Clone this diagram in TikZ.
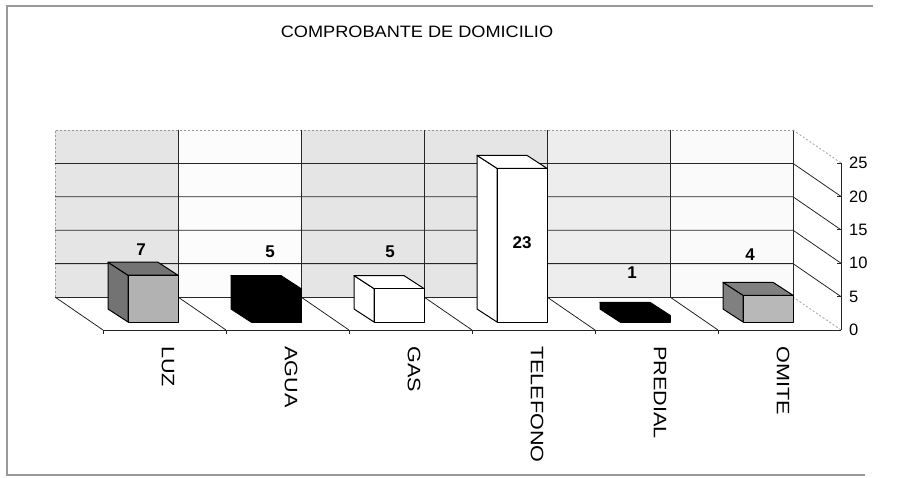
\documentclass[tikz,border=0pt]{standalone}
\usepackage{fontspec}
\setmainfont{Liberation Sans}
\newfontfamily\mcatfont[FakeStretch=1.2]{Liberation Sans}
\newfontfamily\mtitlefont[FakeStretch=1.1]{Liberation Sans}
\tikzset{mgrid/.style={draw,black!85,line width=0.8pt}}
\tikzset{mfaint/.style={draw,black!40,line width=0.7pt,dash pattern=on 2pt off 2pt}}
\tikzset{mframe/.style={draw,black!40,line width=1.3pt}}
\tikzset{mbar/.style={draw,black,line width=1pt,line join=round}}
\tikzset{mval/.style={font=\fontsize{17}{17}\selectfont\bfseries,inner sep=0pt}}
\tikzset{mcat/.style={font=\fontsize{18}{18}\mcatfont,rotate=-90,anchor=west,inner sep=0pt}}
\tikzset{mtick/.style={font=\fontsize{16.5}{16.5}\selectfont,anchor=west,inner sep=0pt}}
\newcommand{\mcube}[4]{%
  \pgfmathsetmacro{\mtop}{322-6.68*#2}
  \filldraw[mbar,fill=#4] (#1,322) -- (#1,\mtop) -- ({#1-20},{\mtop-13}) -- ({#1-20},309) -- cycle;
  \filldraw[mbar,fill=#4] (#1,\mtop) -- ({#1+50},\mtop) -- ({#1+30},{\mtop-13}) -- ({#1-20},{\mtop-13}) -- cycle;
  \filldraw[mbar,fill=#3] (#1,322) rectangle ({#1+50},\mtop);
}

\begin{document}
\begin{tikzpicture}[x=1pt,y=-1pt]
\useasboundingbox (0,0) rectangle (903,477);
\draw[mframe] (873,6) -- (7,6) -- (7,475) -- (865,475);
\node[font=\fontsize{16.5}{16.5}\mtitlefont] (title) at (417,32) {COMPROBANTE DE DOMICILIO};

\foreach \i/\s in {0/10,1/1,2/10,3/10,4/7,5/2}
  \fill[black!\s] ({55+123*\i},130) rectangle ({178+123*\i},297);
\draw[mfaint] (55,297) -- (55,130) -- (793,130);
\draw[mgrid] (793,130) -- (793,297);
\foreach \v in {5,10,15,20}
  \draw[mgrid] (55,{297-6.68*\v}) -- (793,{297-6.68*\v}) -- (841,{330-6.68*\v});
\foreach \i in {1,...,5}
  \draw[mgrid] ({55+123*\i},130) -- ({55+123*\i},297);
\draw[mfaint] (793,130) -- (841,163);
\draw[mfaint] (793,297) -- (841,330);

\draw[mgrid] (55,297) -- (793,297);
\draw[mgrid] (103,330) -- (841,330);
\foreach \i in {0,...,5} {
  \draw[mgrid] ({55+123*\i},297) -- ({103+123*\i},330);
  \draw[mgrid] ({103+123*\i},330) -- ({103+123*\i},334);
}
\draw[mgrid] (841,163) -- (841,330);
\foreach \v in {0,5,...,25} {
  \draw[mgrid] (837,{330-6.68*\v}) -- (841,{330-6.68*\v});
  \node[mtick] (t\v) at (849,{330-6.68*\v}) {\v};
}

\mcube{128}{7}{black!30}{black!55}
\mcube{251}{5}{black}{black}
\mcube{374}{5}{white}{white}
\mcube{497}{23}{white}{white}
\mcube{620}{1}{black}{black}
\mcube{743}{4}{black!28}{black!50}

\node[mval] (vluz) at (141,250) {7};
\node[mval] (vagua) at (270,252) {5};
\node[mval] (vgas) at (390,252) {5};
\node[mval] (vtel) at (522,243) {23};
\node[mval] (vpred) at (632,273) {1};
\node[mval] (vomi) at (750,255) {4};

\node[mcat] (cluz) at (168,346) {LUZ};
\node[mcat] (cagua) at (291,346) {AGUA};
\node[mcat] (cgas) at (414,346) {GAS};
\node[mcat] (ctel) at (537,346) {TELEFONO};
\node[mcat] (cpred) at (660,346) {PREDIAL};
\node[mcat] (comi) at (783,346) {OMITE};
\end{tikzpicture}
\end{document}
